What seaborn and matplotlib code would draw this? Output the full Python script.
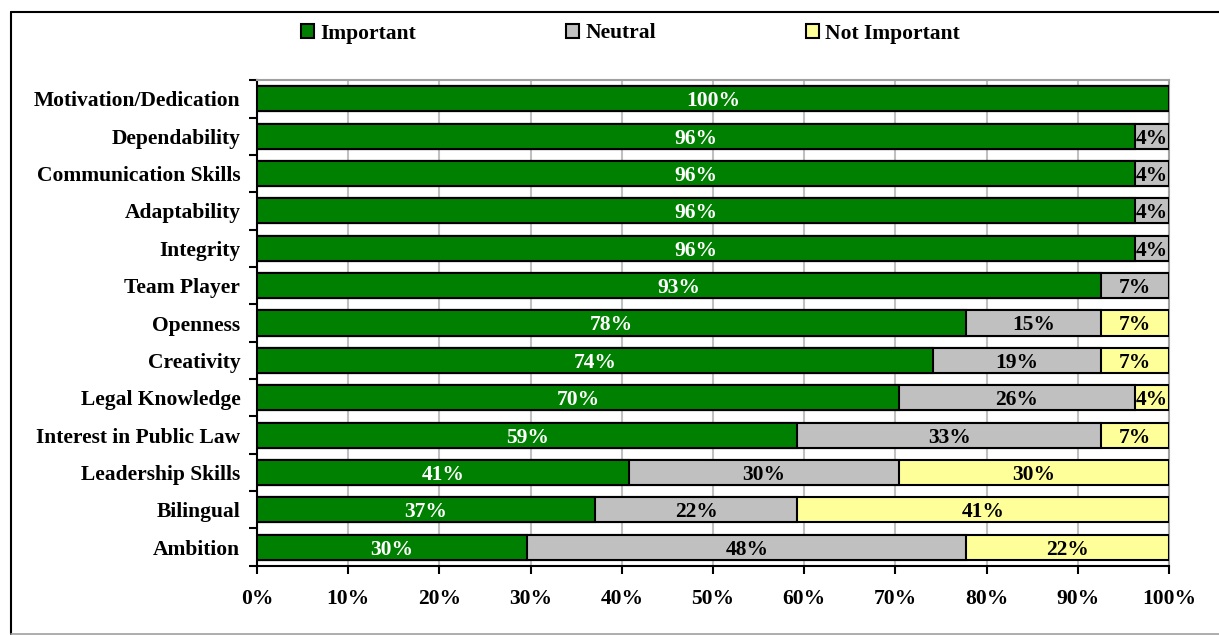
import matplotlib
matplotlib.use("Agg")
import matplotlib.pyplot as plt
import matplotlib.patches as mpatches
import numpy as np
import pandas as pd
import seaborn as sns

# Survey of 27 respondents: how important is each attribute?
attributes = [
    "Motivation/Dedication", "Dependability", "Communication Skills",
    "Adaptability", "Integrity", "Team Player", "Openness", "Creativity",
    "Legal Knowledge", "Interest in Public Law", "Leadership Skills",
    "Bilingual", "Ambition",
]
important = [27, 26, 26, 26, 26, 25, 21, 20, 19, 16, 11, 10, 8]
neutral = [0, 1, 1, 1, 1, 2, 4, 5, 7, 9, 8, 6, 13]
not_important = [0, 0, 0, 0, 0, 0, 2, 2, 1, 2, 8, 11, 6]
respondents = 27

series_names = ["Important", "Neutral", "Not Important"]
series_colors = ["#008000", "#C0C0C0", "#FFFF99"]
label_colors = ["white", "black", "black"]
xtick_labels = ["0%", "10%", "20%", "30%", "40%", "50%", "60%", "70%",
                "80%", "90%", "100%"]

FS = 15.5

sns.set_theme(style="white")
plt.rcParams["font.family"] = ["Liberation Serif", "DejaVu Serif"]
plt.rcParams["font.weight"] = "bold"
plt.rcParams["text.color"] = "black"
plt.rcParams["xtick.color"] = "black"
plt.rcParams["ytick.color"] = "black"
plt.rcParams["axes.labelcolor"] = "black"

df = pd.DataFrame({
    "attribute": attributes,
    "Important": np.array(important) / respondents * 100,
    "Neutral": np.array(neutral) / respondents * 100,
    "Not Important": np.array(not_important) / respondents * 100,
})
cum = df[series_names].cumsum(axis=1)
starts = cum.shift(axis=1).fillna(0)

fig = plt.figure(figsize=(12.19, 6.35), dpi=100)
ax = fig.add_axes([257 / 1219, 1 - 565.7 / 635, 912 / 1219, 485.4 / 635])

# Draw cumulative totals from the widest layer down so the segments stack
for name, color in reversed(list(zip(series_names, series_colors))):
    sns.barplot(data=cum.assign(attribute=df["attribute"]), x=name, y="attribute",
                orient="h", color=color, edgecolor="black", linewidth=1.5,
                width=0.67, saturation=1, ax=ax, zorder=3)

# Percentage labels centred in each segment
for i, attr in enumerate(attributes):
    for name, tcolor in zip(series_names, label_colors):
        val = df.loc[i, name]
        if val <= 0:
            continue
        x = starts.loc[i, name] + val / 2
        ax.text(x, i, f"{val:.0f}%", ha="center", va="center_baseline",
                color=tcolor, fontsize=FS, fontweight="bold", zorder=5)

ax.set_xlim(0, 100)
ax.set_ylim(len(attributes) - 0.5, -0.5)
ax.set_xticks(np.arange(0, 101, 10))
ax.set_xticklabels(xtick_labels, fontsize=FS, fontweight="bold", color="black")
ax.set_yticks(np.arange(len(attributes)))
ax.set_yticklabels(attributes, fontsize=FS, fontweight="bold", color="black",
                   va="center_baseline")
ax.set_xlabel("")
ax.set_ylabel("")

# Category boundary ticks on the value axis side
ax.set_yticks(np.arange(-0.5, len(attributes), 1), minor=True)
ax.tick_params(axis="y", which="major", length=0, pad=12)
ax.tick_params(axis="y", which="minor", length=6, width=1.5, color="black",
               direction="out", left=True)
ax.tick_params(axis="x", which="major", length=6, width=1.5, color="black",
               direction="out", bottom=True, pad=11)

ax.xaxis.grid(True, color="#C0C0C0", linewidth=1.5, zorder=0)
ax.yaxis.grid(False)
ax.set_axisbelow(True)
for side in ["left", "bottom"]:
    ax.spines[side].set_color("black")
    ax.spines[side].set_linewidth(1.5)
for side in ["top", "right"]:
    ax.spines[side].set_color("#A0A0A0")
    ax.spines[side].set_linewidth(1.5)

# Legend: one entry per series at fixed positions along the top
legend_x = [301 / 1219, 566 / 1219, 806 / 1219]
for name, color, lx in zip(series_names, series_colors, legend_x):
    handle = mpatches.Patch(facecolor=color, edgecolor="black", linewidth=1.5)
    leg = fig.legend([handle], [name], loc="center left",
                     bbox_to_anchor=(lx, 1 - 33.5 / 635), frameon=False,
                     prop={"size": FS, "weight": "bold"},
                     handlelength=0.6, handleheight=0.6, handletextpad=0.3,
                     borderpad=0, borderaxespad=0)
    for t in leg.get_texts():
        t.set_color("black")

# Chart frame
frame_kw = dict(transform=fig.transFigure, clip_on=False)
fig.add_artist(plt.Line2D([11 / 1219, 1], [1 - 12 / 635] * 2, color="black",
                          linewidth=1.5, **frame_kw))
fig.add_artist(plt.Line2D([11 / 1219] * 2, [1 - 12 / 635, 1 - 634 / 635],
                          color="black", linewidth=1.5, **frame_kw))
fig.add_artist(plt.Line2D([11 / 1219, 1], [1 - 634 / 635] * 2, color="#A0A0A0",
                          linewidth=1.2, **frame_kw))

fig.savefig("out.png", dpi=100)
